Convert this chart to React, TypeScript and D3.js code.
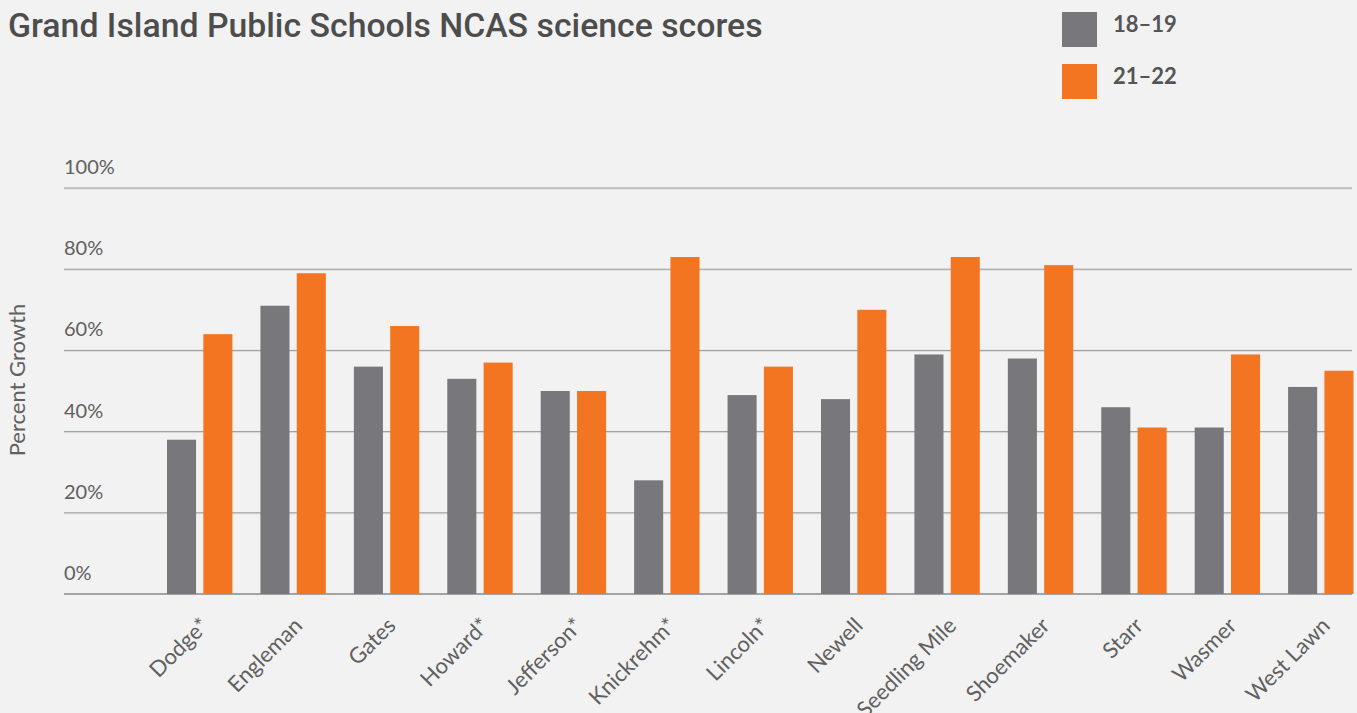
import React from 'react';
import * as d3 from 'd3';

const schools = ['Dodge*', 'Engleman', 'Gates', 'Howard*', 'Jefferson*', 'Knickrehm*', 'Lincoln*', 'Newell', 'Seedling Mile', 'Shoemaker', 'Starr', 'Wasmer', 'West Lawn'];
const years = ['18–19', '21–22'];
const scores1819 = [38, 71, 56, 53, 50, 28, 49, 48, 59, 58, 46, 41, 51];
const scores2122 = [64, 79, 66, 57, 50, 83, 56, 70, 83, 81, 41, 59, 55];
const yTicks = [0, 20, 40, 60, 80, 100];

const W = 1357;
const H = 713;
const colors = ['#78787c', '#f47521'];
const textCol = '#606060';

const App = () => {
  const series = [scores1819, scores2122];
  const x = d3.scaleBand().domain(schools).range([167, 1353.5]).paddingInner(0.3).paddingOuter(0);
  const xi = d3.scaleBand().domain(years).range([0, x.bandwidth()]).paddingInner(0.2);
  const y = d3.scaleLinear().domain([0, 100]).range([594, 188]);
  const gridLeft = 64;
  const gridRight = 1352;

  return (
    <svg width={W} height={H} style={{ position: 'absolute', left: 0, top: 0, background: '#f2f2f2' }}>
      <rect width={W} height={H} fill="#f2f2f2" />
      <text x={8} y={37} fontFamily="Roboto, sans-serif" fontWeight={500} fontSize={33.8} fill="#4d4d4d">
        Grand Island Public Schools NCAS science scores
      </text>

      {years.map((yr, i) => (
        <g key={yr} transform={`translate(1062,${12 + i * 52})`}>
          <rect width={35} height={35} fill={colors[i]} />
          <text x={51} y={20} fontFamily="Lato, sans-serif" fontWeight={700} fontSize={22} fill="#555">{yr}</text>
        </g>
      ))}

      {yTicks.map(t => (
        <g key={t}>
          {t > 0 && <line x1={gridLeft} x2={gridRight} y1={y(t) + 1} y2={y(t) + 1} stroke="#dcdcdc" />}
          <line x1={gridLeft} x2={gridRight} y1={y(t)} y2={y(t)} stroke={t === 0 ? '#555' : '#999'} strokeWidth={1} />
          <text x={gridLeft} y={y(t) - 14} fontFamily="Lato, sans-serif" fontWeight={400} fontSize={20} fill={textCol}>{t}%</text>
        </g>
      ))}

      <text transform={`translate(25,380) rotate(-90)`} textAnchor="middle" fontFamily="Lato, sans-serif" fontWeight={400} fontSize={22} fill={textCol}>
        Percent Growth
      </text>

      {schools.map((s, i) => (
        <g key={s} transform={`translate(${x(s)},0)`}>
          {years.map((yr, j) => (
            <rect key={yr} x={xi(yr)} y={y(series[j][i])} width={xi.bandwidth()} height={y(0) - y(series[j][i])} fill={colors[j]} />
          ))}
          <text
            transform={`translate(${x.bandwidth() / 2 + 10.5},627) rotate(-45)`}
            textAnchor="end"
            fontFamily="Lato, sans-serif"
            fontWeight={400}
            fontSize={22}
            fill={textCol}
          >
            {s}
          </text>
        </g>
      ))}
    </svg>
  );
};

export default App;
